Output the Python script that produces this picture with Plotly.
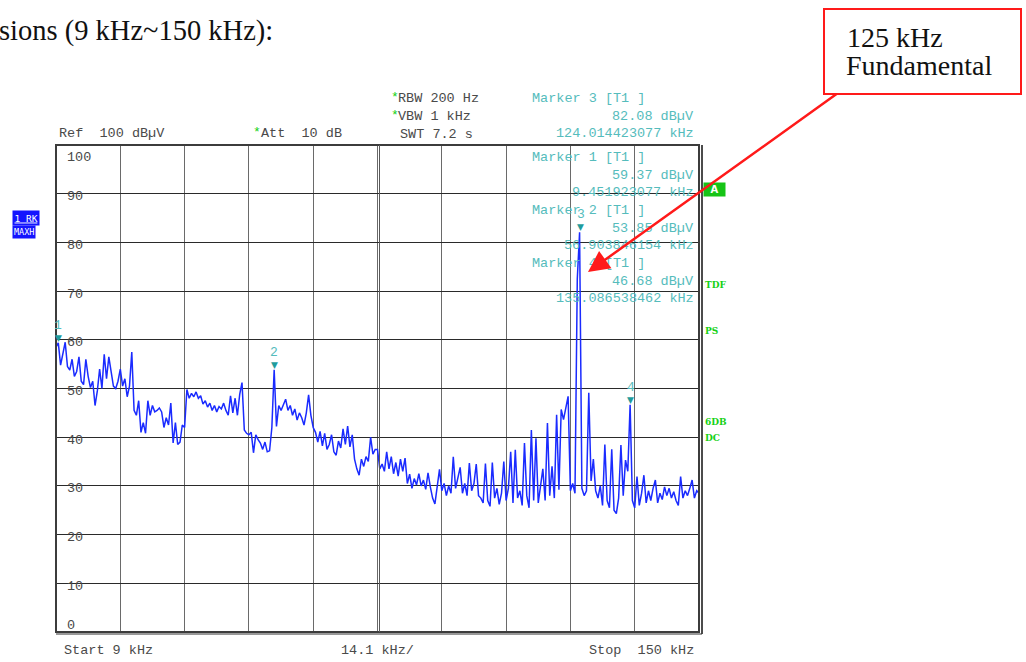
import numpy as np
import plotly.graph_objects as go

# ---- sweep settings -------------------------------------------------------
f_start_khz = 9.0
f_stop_khz = 150.0
span_per_div_khz = 14.1
ref_level_dbuv = 100
y_ticks = [100, 90, 80, 70, 60, 50, 40, 30, 20, 10, 0]

# ---- MAXH trace, dBuV, 28 sweep points per division -----------------------
div01 = [58.5, 59.37, 54.8, 57.5, 59.5, 54.5, 53.8, 56.0, 52.5, 53.5, 56.5, 51.5, 50.8, 56.0,
         52.5, 50.2, 51.5, 46.5, 49.5, 54.0, 50.0, 57.0, 52.0, 56.5, 53.0, 50.5, 50.0, 51.5]
div02 = [54.0, 50.5, 52.0, 48.3, 50.5, 57.5, 45.5, 44.5, 47.5, 41.0, 43.0, 40.8, 47.5, 44.5,
         46.5, 45.2, 45.5, 46.0, 45.2, 42.0, 44.0, 42.5, 47.0, 38.8, 43.0, 38.5, 39.0, 42.5]
div03 = [42.0, 49.8, 48.0, 49.0, 48.3, 49.3, 48.0, 48.5, 46.8, 47.5, 46.2, 47.0, 45.5, 46.5,
         45.2, 46.3, 45.8, 47.0, 45.5, 44.5, 48.5, 45.0, 48.0, 44.5, 48.8, 51.2, 41.5, 40.8]
div04 = [40.5, 41.0, 36.8, 40.5, 39.5, 38.8, 37.5, 39.0, 37.0, 37.2, 42.0, 53.85, 42.2, 46.5,
         45.5, 46.8, 47.8, 45.5, 46.5, 44.5, 45.8, 43.5, 45.0, 44.0, 42.5, 45.0, 48.7, 44.5]
div05 = [42.0, 41.0, 39.0, 41.2, 38.2, 40.8, 37.5, 38.5, 40.5, 37.0, 36.3, 39.2, 37.8, 41.7,
         38.5, 42.3, 38.0, 40.5, 35.5, 33.5, 32.2, 35.5, 34.0, 36.0, 35.0, 40.0, 36.5, 37.5]
div06 = [37.5, 33.5, 34.5, 33.0, 37.0, 33.5, 36.0, 32.5, 34.8, 32.0, 35.5, 33.0, 35.7, 30.5,
         32.4, 29.5, 31.5, 30.2, 32.5, 30.0, 31.2, 29.3, 32.7, 29.8, 27.5, 26.3, 30.0, 33.4]
div07 = [29.0, 30.5, 28.0, 30.0, 28.5, 36.0, 29.5, 31.5, 33.8, 28.5, 30.5, 28.0, 34.7, 29.0,
         30.5, 34.5, 28.0, 27.5, 26.5, 34.6, 27.0, 25.8, 34.8, 27.5, 29.5, 26.2, 28.5, 35.0]
div08 = [27.0, 29.5, 37.0, 26.5, 37.4, 27.5, 29.0, 26.0, 38.8, 28.0, 25.5, 41.5, 27.0, 39.8,
         26.5, 30.0, 33.5, 27.0, 42.9, 28.0, 34.0, 27.5, 44.6, 29.2, 45.7, 43.6, 46.4, 48.4]
div09 = [29.0, 30.5, 28.5, 72.5, 82.08, 29.5, 28.0, 29.0, 49.1, 31.0, 35.5, 29.0, 27.5, 30.0,
         26.0, 38.5, 27.0, 25.5, 37.5, 25.0, 24.3, 27.5, 38.4, 28.0, 35.3, 33.0, 46.68, 27.0]
div10 = [25.5, 31.9, 26.0, 28.5, 32.2, 26.5, 29.0, 27.0, 29.5, 31.2, 26.5, 28.5, 27.2, 29.8,
         28.0, 29.5, 27.5, 28.8, 27.0, 26.0, 31.9, 27.5, 29.0, 28.0, 29.5, 31.2, 27.5, 29.0,
         28.5]

level_dbuv = div01 + div02 + div03 + div04 + div05 + div06 + div07 + div08 + div09 + div10
freq_khz = np.linspace(f_start_khz, f_stop_khz, len(level_dbuv))

# ---- markers ----------------------------------------------------------------
marker_ids = ["1", "2", "3", "4"]
marker_freq_khz = [9.451923077, 56.903846154, 124.014423077, 135.086538462]
marker_level_dbuv = [59.37, 53.85, 82.08, 46.68]
marker_freq_text = ["9.451923077 kHz", "56.903846154 kHz", "124.014423077 kHz", "135.086538462 kHz"]

# ---- page geometry (pixels) ---------------------------------------------------
FIG_W, FIG_H = 1026, 662
L, T, W, H = 56, 145, 643, 487


def px(x):
    return (x - L) / W


def py(y):
    return (T + H - y) / H


MONO = "Liberation Mono"
SERIF = "Liberation Serif"
GRAY = "#4a4a4a"
CYAN = "#55bcbc"
TEAL = "#1f9c9c"
GREEN = "#16d116"

fig = go.Figure()
fig.add_trace(go.Scatter(
    x=freq_khz, y=level_dbuv, mode="lines",
    line=dict(color="#1a2bff", width=1.5),
    hoverinfo="skip", showlegend=False,
))

ann = []


def text(t, x, y, size=13.5, color=GRAY, xa="left", font=MONO, **kw):
    ann.append(dict(text=t, x=px(x), y=py(y), xref="paper", yref="paper",
                    xanchor=xa, yanchor="middle", showarrow=False,
                    font=dict(family=font, size=size, color=color), **kw))


# heading of the page section
text("sions (9 kHz~150 kHz):", -3, 31, size=28.5, color="#111111", font=SERIF)

# instrument header
text("Ref  100 dB\u00b5V", 57, 133)
text("*", 251, 132, size=13, color=GREEN)
text("Att  10 dB", 259, 133)
text("*", 389, 97, size=13, color=GREEN)
text("RBW 200 Hz", 396, 98)
text("*", 389, 115, size=13, color=GREEN)
text("VBW 1 kHz", 396, 116)
text("SWT 7.2 s", 398, 134)

# marker readouts
hdr_order = [2, 0, 1, 3]
rows_y = [98, 157, 210, 263]
for row, idx in enumerate(hdr_order):
    y0 = rows_y[row]
    text("Marker %s [T1 ]" % marker_ids[idx], 530, y0, color=CYAN)
    text("%.2f dB\u00b5V" % marker_level_dbuv[idx], 696, y0 + 18, color=CYAN, xa="right")
    text(marker_freq_text[idx], 696, y0 + 35, color=CYAN, xa="right")

# y scale labels inside the grid
for v in y_ticks:
    shift = -3
    if v == ref_level_dbuv:
        shift = -12
    elif v == 0:
        shift = 7
    ann.append(dict(text=str(v), x=px(65), y=v, xref="paper", yref="y",
                    xanchor="left", yanchor="middle", yshift=shift, showarrow=False,
                    font=dict(family=MONO, size=13.5, color=GRAY)))

# footer
text("Start 9 kHz", 62, 650)
text("%.1f kHz/" % span_per_div_khz, 339, 650)
text("Stop  150 kHz", 696, 650, xa="right")

# trace / status badges
ann.append(dict(text="<u>1 RK</u>", x=px(12), y=py(218), xref="paper", yref="paper",
                xanchor="left", yanchor="middle", showarrow=False,
                font=dict(family="DejaVu Sans Mono", size=9.5, color="white"),
                bgcolor="#1414ff", borderpad=1.5))
ann.append(dict(text="MAXH", x=px(12), y=py(232), xref="paper", yref="paper",
                xanchor="left", yanchor="middle", showarrow=False,
                font=dict(family="DejaVu Sans Mono", size=8.5, color="white"),
                bgcolor="#1414ff", borderpad=1))
ann.append(dict(text="<b>A</b>", x=px(703), y=py(189), xref="paper", yref="paper",
                xanchor="left", yanchor="middle", showarrow=False,
                font=dict(family="DejaVu Sans", size=10, color="white"),
                bgcolor="#16c416", borderpad=1, width=19))
for t, yy in [("TDF", 285), ("PS", 331), ("6DB", 422), ("DC", 438)]:
    text("<b>%s</b>" % t, 703, yy, size=9, color=GREEN, font="DejaVu Serif")

# marker symbols on the trace
for mid, mf, ml in zip(marker_ids, marker_freq_khz, marker_level_dbuv):
    ann.append(dict(text="\u25bc", x=mf, y=ml, xref="x", yref="y", xanchor="center",
                    yanchor="bottom", yshift=-2, showarrow=False,
                    font=dict(family="DejaVu Sans", size=9, color=TEAL)))
    ann.append(dict(text=mid, x=mf, y=ml, xref="x", yref="y", xanchor="center",
                    yanchor="bottom", yshift=8, showarrow=False,
                    font=dict(family=MONO, size=13, color=CYAN)))

# callout pointing at the fundamental
ann.append(dict(text="", x=px(588), y=py(272), xref="paper", yref="paper",
                ax=838 - 588, ay=93 - 272, axref="pixel", ayref="pixel",
                showarrow=True, arrowhead=2, arrowsize=1.7, arrowwidth=2.5,
                arrowcolor="#ff1a1a"))
text("125 kHz", 845, 37, size=28, color="#111111", font=SERIF)
text("Fundamental", 844, 65, size=28, color="#111111", font=SERIF)

shapes = [
    # callout box
    dict(type="rect", xref="paper", yref="paper", x0=px(824), x1=px(1021),
         y0=py(94), y1=py(9), line=dict(color="#ff1a1a", width=2), fillcolor="rgba(0,0,0,0)"),
    # grid frame
    dict(type="rect", xref="paper", yref="paper", x0=0, x1=1, y0=0, y1=1,
         line=dict(color="#3c3c3c", width=2)),
    dict(type="line", xref="paper", yref="paper", x0=px(702), x1=px(702),
         y0=py(634), y1=py(145), line=dict(color="#111111", width=1.5)),
    dict(type="line", xref="paper", yref="paper", x0=0, x1=px(702),
         y0=py(634), y1=py(634), line=dict(color="#333333", width=1.2)),
    # doubled centre line
    dict(type="line", xref="paper", yref="paper", x0=px(379.5), x1=px(379.5),
         y0=0, y1=1, line=dict(color="#5a5a5a", width=1)),
]

fig.update_layout(
    width=FIG_W, height=FIG_H,
    margin=dict(l=L, r=FIG_W - L - W, t=T, b=FIG_H - T - H, pad=0),
    paper_bgcolor="white", plot_bgcolor="white",
    showlegend=False,
    xaxis=dict(range=[f_start_khz, f_stop_khz], tick0=f_start_khz, dtick=span_per_div_khz,
               showgrid=True, gridcolor="#6a6a6a", gridwidth=1, showticklabels=False,
               zeroline=False, showline=False, ticks="", fixedrange=True),
    yaxis=dict(range=[0, ref_level_dbuv], tick0=0, dtick=10,
               showgrid=True, gridcolor="#2a2a2a", gridwidth=1, showticklabels=False,
               zeroline=False, showline=False, ticks="", fixedrange=True),
    annotations=ann,
    shapes=shapes,
)

fig.write_html("out.html")
